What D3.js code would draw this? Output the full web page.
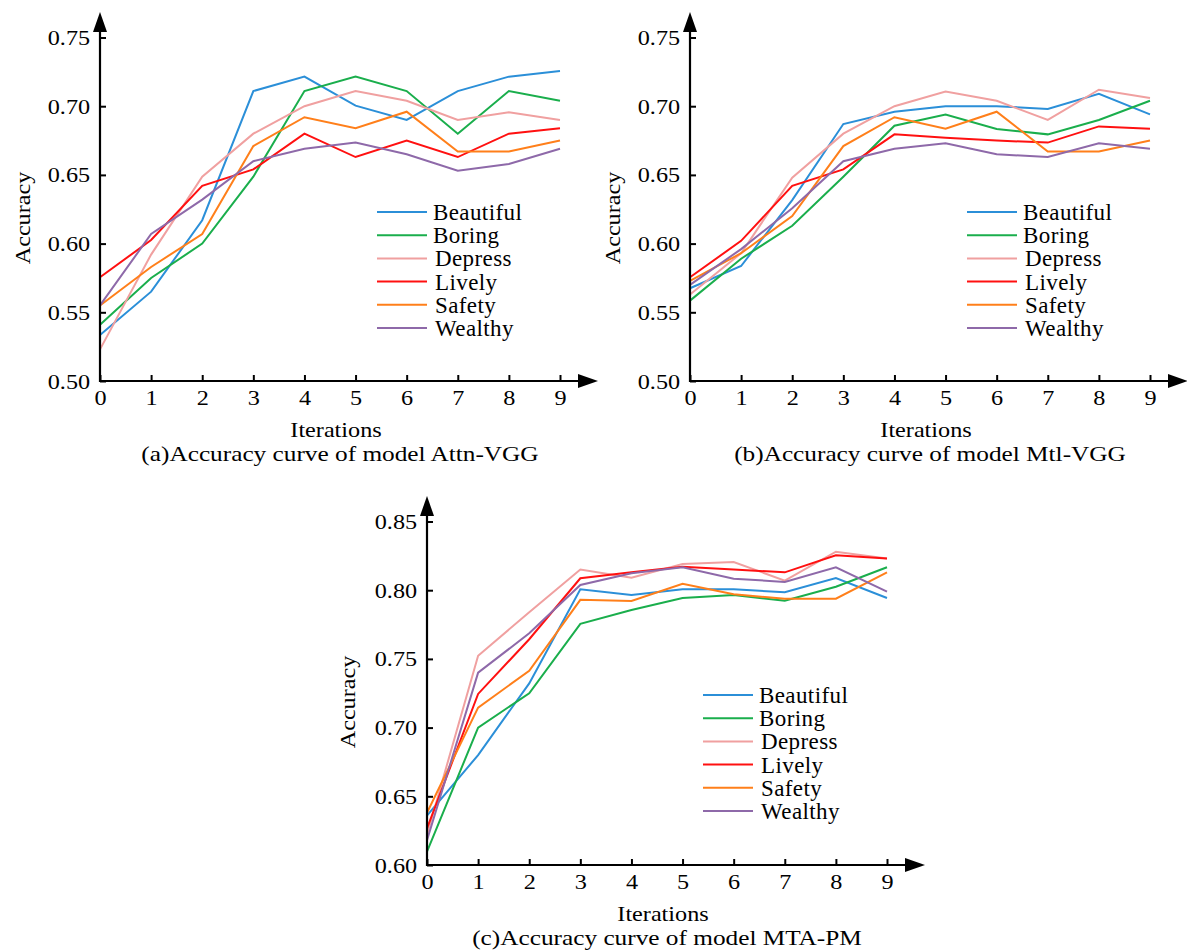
<!DOCTYPE html>
<html><head><meta charset="utf-8">
<script src="https://cdn.jsdelivr.net/npm/d3@7"></script>
<style>body{margin:0;background:#fff}svg{display:block}text{font-family:"Liberation Serif","Times New Roman",serif;fill:#000}</style>
</head><body><svg id="c" width="1187" height="952"></svg>
<script>
const iterations = [0,1,2,3,4,5,6,7,8,9];
const seriesNames = ["Beautiful","Boring","Depress","Lively","Safety","Wealthy"];
const seriesColors = ["#2b8fd8","#1aae4c","#f0a0a0","#ff1010","#ff7f1a","#8e69a9"];

// (a) Attn-VGG
const attnBeautiful = [0.5335,0.565,0.617,0.711,0.7215,0.7004,0.690,0.711,0.7215,0.7256];
const attnBoring    = [0.541,0.575,0.600,0.6487,0.711,0.7215,0.711,0.680,0.711,0.704];
const attnDepress   = [0.523,0.592,0.6487,0.680,0.700,0.711,0.704,0.690,0.6956,0.690];
const attnLively    = [0.5755,0.6026,0.642,0.654,0.680,0.663,0.675,0.663,0.680,0.684];
const attnSafety    = [0.555,0.583,0.607,0.671,0.692,0.684,0.696,0.667,0.667,0.675];
const attnWealthy   = [0.555,0.607,0.632,0.660,0.669,0.6735,0.665,0.653,0.658,0.669];

// (b) Mtl-VGG
const mtlBeautiful = [0.5675,0.5837,0.6317,0.687,0.696,0.700,0.700,0.698,0.709,0.694];
const mtlBoring    = [0.5585,0.589,0.613,0.6487,0.6858,0.694,0.6834,0.6795,0.690,0.704];
const mtlDepress   = [0.563,0.593,0.648,0.680,0.700,0.7106,0.704,0.690,0.712,0.706];
const mtlLively    = [0.5755,0.602,0.642,0.654,0.6795,0.677,0.675,0.6735,0.6853,0.6836];
const mtlSafety    = [0.5728,0.593,0.620,0.671,0.692,0.6836,0.696,0.667,0.667,0.675];
const mtlWealthy   = [0.570,0.596,0.6257,0.660,0.669,0.673,0.665,0.663,0.673,0.669];

// (c) MTA-PM
const mtaBeautiful = [0.636,0.680,0.7322,0.8007,0.7965,0.8007,0.8007,0.7985,0.8089,0.7943];
const mtaBoring    = [0.6097,0.700,0.725,0.7755,0.7856,0.7943,0.7965,0.7923,0.8025,0.8167];
const mtaDepress   = [0.622,0.7523,0.784,0.815,0.809,0.819,0.8205,0.807,0.828,0.823];
const mtaLively    = [0.6267,0.7245,0.7643,0.8087,0.813,0.817,0.815,0.813,0.8254,0.823];
const mtaSafety    = [0.638,0.7145,0.7414,0.793,0.7921,0.8047,0.797,0.7938,0.7938,0.813];
const mtaWealthy   = [0.618,0.740,0.7686,0.8038,0.8123,0.8167,0.8084,0.806,0.8167,0.799];

const yTicksAB = [0.50,0.55,0.60,0.65,0.70,0.75];
const yTicksC  = [0.60,0.65,0.70,0.75,0.80,0.85];

const svg = d3.select("#c");
const FS = 22, SX = 1.1;

function stretchedText(g, x, y, str, size, anchor, sx){
  return g.append("text").attr("transform",`translate(${x},${y}) scale(${sx},1)`)
    .attr("text-anchor",anchor).attr("font-size",size).text(str);
}

function panel(opt){
  const g = svg.append("g");
  const x = d3.scaleLinear().domain([0,9]).range([opt.x0, opt.x0+460]);
  const y = d3.scaleLinear().domain([opt.ymin, opt.ymin+0.25]).range([opt.yb, opt.yb-343.5]);
  const line = d3.line().x((d,i)=>x(iterations[i])).y(d=>y(d));
  opt.series.forEach((s,k)=>{
    g.append("path").attr("d", line(s)).attr("fill","none")
      .attr("stroke", seriesColors[k]).attr("stroke-width",2).attr("stroke-linejoin","miter");
  });
  const ax = g.append("g").attr("transform",`translate(0,${opt.yb})`)
    .call(d3.axisBottom(x).tickValues(iterations).tickSize(-6).tickPadding(8).tickFormat(d3.format("d")));
  const ay = g.append("g").attr("transform",`translate(${opt.x0},0)`)
    .call(d3.axisLeft(y).tickValues(opt.ticks).tickSize(-6).tickPadding(9).tickFormat(d3.format(".2f")));
  [ax,ay].forEach(a=>{
    a.attr("font-family",null).attr("font-size",null);
    a.select(".domain").remove();
    a.selectAll("line").attr("stroke","#000").attr("stroke-width",2);
    a.selectAll("text").attr("font-size",FS).attr("transform",`scale(${SX},1)`);
  });
  ax.selectAll("text").attr("dy","0.71em");
  g.append("line").attr("x1",opt.x0).attr("x2",opt.x0).attr("y1",opt.yb+1).attr("y2",opt.yb-355)
    .attr("stroke","#000").attr("stroke-width",2.2);
  g.append("line").attr("x1",opt.x0-1).attr("x2",opt.x0+480).attr("y1",opt.yb).attr("y2",opt.yb)
    .attr("stroke","#000").attr("stroke-width",2.2);
  const ty = opt.yb-369;
  g.append("path").attr("d",`M${opt.x0},${ty} L${opt.x0-7},${ty+20} L${opt.x0+7},${ty+20} Z`).attr("fill","#000");
  const tx = opt.x0+498;
  g.append("path").attr("d",`M${tx},${opt.yb} L${tx-20},${opt.yb-7} L${tx-20},${opt.yb+7} Z`).attr("fill","#000");
  g.append("text").attr("transform",`translate(${opt.x0-opt.alx},${opt.yb-163}) rotate(-90) scale(${SX},1)`)
    .attr("text-anchor","middle").attr("font-size",FS).text("Accuracy");
  stretchedText(g, opt.x0+236, opt.yb+56, "Iterations", FS, "middle", SX);
  stretchedText(g, opt.x0+240, opt.yb+80, opt.caption, FS, "middle", 1.15);
  seriesNames.forEach((n,k)=>{
    const ly = opt.ly + k*23.2;
    g.append("line").attr("x1",opt.lx).attr("x2",opt.lx+50).attr("y1",ly).attr("y2",ly)
      .attr("stroke",seriesColors[k]).attr("stroke-width",2);
    g.append("text").attr("x",opt.lx+56+(k>=2?2:0)).attr("y",ly+8).attr("font-size",23)
      .attr("letter-spacing","0.4px").text(n);
  });
}

panel({x0:100, yb:381, ymin:0.50, ticks:yTicksAB, lx:377, ly:212, alx:70,
  caption:"(a)Accuracy curve of model Attn-VGG",
  series:[attnBeautiful,attnBoring,attnDepress,attnLively,attnSafety,attnWealthy]});
panel({x0:690, yb:381, ymin:0.50, ticks:yTicksAB, lx:967, ly:212, alx:70,
  caption:"(b)Accuracy curve of model Mtl-VGG",
  series:[mtlBeautiful,mtlBoring,mtlDepress,mtlLively,mtlSafety,mtlWealthy]});
panel({x0:427, yb:865, ymin:0.60, ticks:yTicksC, lx:703, ly:695, alx:72,
  caption:"(c)Accuracy curve of model MTA-PM",
  series:[mtaBeautiful,mtaBoring,mtaDepress,mtaLively,mtaSafety,mtaWealthy]});
</script></body></html>
